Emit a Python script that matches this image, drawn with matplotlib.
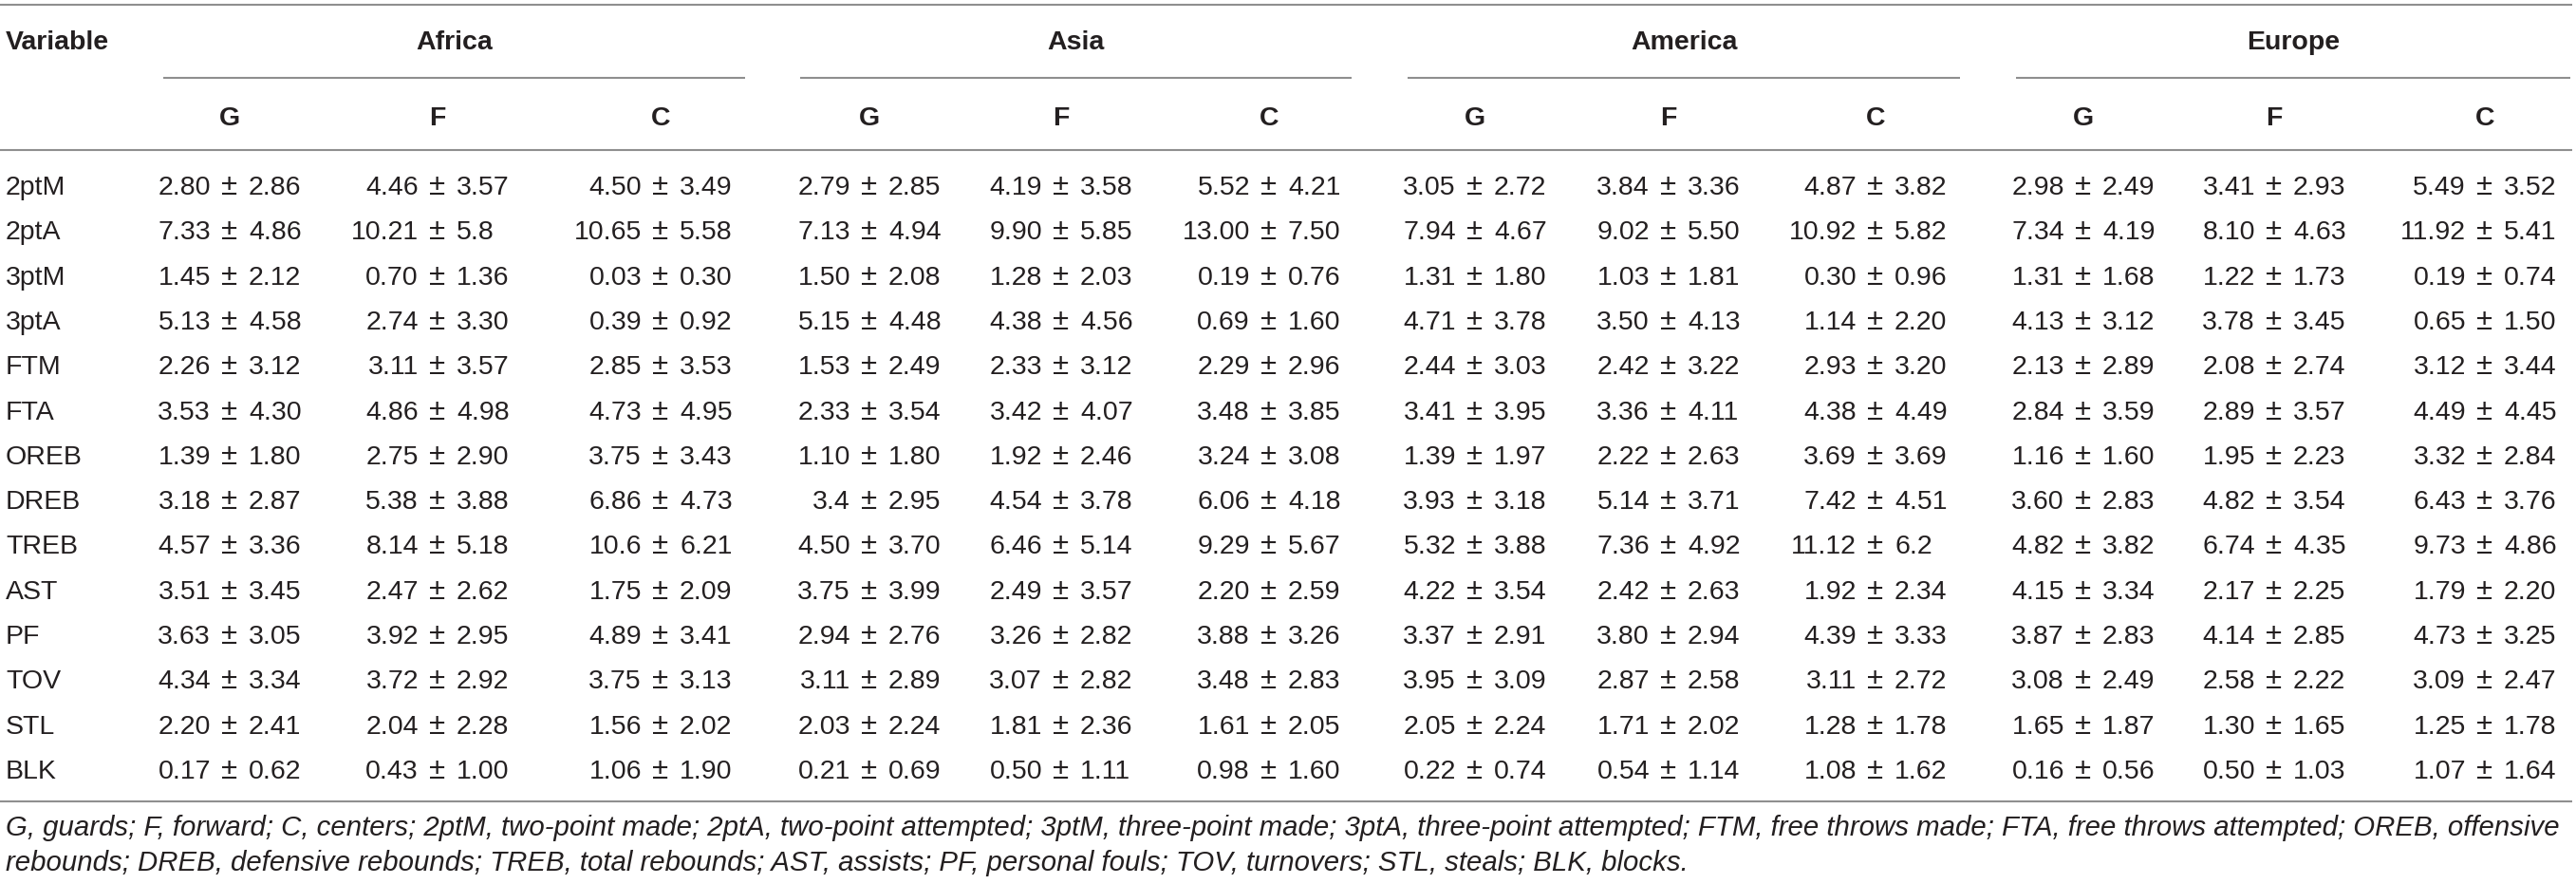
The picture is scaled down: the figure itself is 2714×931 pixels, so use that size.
import matplotlib
matplotlib.use("Agg")
import matplotlib.pyplot as plt

# 数据
variables = ["2ptM", "2ptA", "3ptM", "3ptA", "FTM", "FTA", "OREB", "DREB",
             "TREB", "AST", "PF", "TOV", "STL", "BLK"]
regions = ["Africa", "Asia", "America", "Europe"]
positions = ["G", "F", "C"]

africa_G = ["2.80 ± 2.86", "7.33 ± 4.86", "1.45 ± 2.12", "5.13 ± 4.58", "2.26 ± 3.12", "3.53 ± 4.30", "1.39 ± 1.80",
            "3.18 ± 2.87", "4.57 ± 3.36", "3.51 ± 3.45", "3.63 ± 3.05", "4.34 ± 3.34", "2.20 ± 2.41", "0.17 ± 0.62"]
africa_F = ["4.46 ± 3.57", "10.21 ± 5.8", "0.70 ± 1.36", "2.74 ± 3.30", "3.11 ± 3.57", "4.86 ± 4.98", "2.75 ± 2.90",
            "5.38 ± 3.88", "8.14 ± 5.18", "2.47 ± 2.62", "3.92 ± 2.95", "3.72 ± 2.92", "2.04 ± 2.28", "0.43 ± 1.00"]
africa_C = ["4.50 ± 3.49", "10.65 ± 5.58", "0.03 ± 0.30", "0.39 ± 0.92", "2.85 ± 3.53", "4.73 ± 4.95", "3.75 ± 3.43",
            "6.86 ± 4.73", "10.6 ± 6.21", "1.75 ± 2.09", "4.89 ± 3.41", "3.75 ± 3.13", "1.56 ± 2.02", "1.06 ± 1.90"]
asia_G = ["2.79 ± 2.85", "7.13 ± 4.94", "1.50 ± 2.08", "5.15 ± 4.48", "1.53 ± 2.49", "2.33 ± 3.54", "1.10 ± 1.80",
          "3.4 ± 2.95", "4.50 ± 3.70", "3.75 ± 3.99", "2.94 ± 2.76", "3.11 ± 2.89", "2.03 ± 2.24", "0.21 ± 0.69"]
asia_F = ["4.19 ± 3.58", "9.90 ± 5.85", "1.28 ± 2.03", "4.38 ± 4.56", "2.33 ± 3.12", "3.42 ± 4.07", "1.92 ± 2.46",
          "4.54 ± 3.78", "6.46 ± 5.14", "2.49 ± 3.57", "3.26 ± 2.82", "3.07 ± 2.82", "1.81 ± 2.36", "0.50 ± 1.11"]
asia_C = ["5.52 ± 4.21", "13.00 ± 7.50", "0.19 ± 0.76", "0.69 ± 1.60", "2.29 ± 2.96", "3.48 ± 3.85", "3.24 ± 3.08",
          "6.06 ± 4.18", "9.29 ± 5.67", "2.20 ± 2.59", "3.88 ± 3.26", "3.48 ± 2.83", "1.61 ± 2.05", "0.98 ± 1.60"]
america_G = ["3.05 ± 2.72", "7.94 ± 4.67", "1.31 ± 1.80", "4.71 ± 3.78", "2.44 ± 3.03", "3.41 ± 3.95", "1.39 ± 1.97",
             "3.93 ± 3.18", "5.32 ± 3.88", "4.22 ± 3.54", "3.37 ± 2.91", "3.95 ± 3.09", "2.05 ± 2.24", "0.22 ± 0.74"]
america_F = ["3.84 ± 3.36", "9.02 ± 5.50", "1.03 ± 1.81", "3.50 ± 4.13", "2.42 ± 3.22", "3.36 ± 4.11", "2.22 ± 2.63",
             "5.14 ± 3.71", "7.36 ± 4.92", "2.42 ± 2.63", "3.80 ± 2.94", "2.87 ± 2.58", "1.71 ± 2.02", "0.54 ± 1.14"]
america_C = ["4.87 ± 3.82", "10.92 ± 5.82", "0.30 ± 0.96", "1.14 ± 2.20", "2.93 ± 3.20", "4.38 ± 4.49", "3.69 ± 3.69",
             "7.42 ± 4.51", "11.12 ± 6.2", "1.92 ± 2.34", "4.39 ± 3.33", "3.11 ± 2.72", "1.28 ± 1.78", "1.08 ± 1.62"]
europe_G = ["2.98 ± 2.49", "7.34 ± 4.19", "1.31 ± 1.68", "4.13 ± 3.12", "2.13 ± 2.89", "2.84 ± 3.59", "1.16 ± 1.60",
            "3.60 ± 2.83", "4.82 ± 3.82", "4.15 ± 3.34", "3.87 ± 2.83", "3.08 ± 2.49", "1.65 ± 1.87", "0.16 ± 0.56"]
europe_F = ["3.41 ± 2.93", "8.10 ± 4.63", "1.22 ± 1.73", "3.78 ± 3.45", "2.08 ± 2.74", "2.89 ± 3.57", "1.95 ± 2.23",
            "4.82 ± 3.54", "6.74 ± 4.35", "2.17 ± 2.25", "4.14 ± 2.85", "2.58 ± 2.22", "1.30 ± 1.65", "0.50 ± 1.03"]
europe_C = ["5.49 ± 3.52", "11.92 ± 5.41", "0.19 ± 0.74", "0.65 ± 1.50", "3.12 ± 3.44", "4.49 ± 4.45", "3.32 ± 2.84",
            "6.43 ± 3.76", "9.73 ± 4.86", "1.79 ± 2.20", "4.73 ± 3.25", "3.09 ± 2.47", "1.25 ± 1.78", "1.07 ± 1.64"]

footnote_1 = ("G, guards; F, forward; C, centers; 2ptM, two-point made; 2ptA, two-point attempted; "
              "3ptM, three-point made; 3ptA, three-point attempted; FTM, free throws made; "
              "FTA, free throws attempted; OREB, offensive")
footnote_2 = ("rebounds; DREB, defensive rebounds; TREB, total rebounds; AST, assists; PF, personal fouls; "
              "TOV, turnovers; STL, steals; BLK, blocks.")

columns = [africa_G, africa_F, africa_C, asia_G, asia_F, asia_C,
           america_G, america_F, america_C, europe_G, europe_F, europe_C]

# 版面（像素坐标）
W, H = 2714, 931
col_x = [242, 461, 696, 916, 1118, 1337, 1554, 1758, 1976, 2195, 2396, 2618]
group_span = [(172, 785), (843, 1424), (1483, 2065), (2124, 2708)]
row_y0, row_dy = 194.5, 47.3
text_color = "#231f20"
line_color = "#8f8f8f"
fs = 20.5
half_cap = 10.5   # 文字中心到基线的距离
plt.rcParams['font.family'] = ['Liberation Sans', 'DejaVu Sans']

fig = plt.figure(figsize=(W / 100, H / 100), dpi=100)
ax = fig.add_axes([0, 0, 1, 1])
ax.set_xlim(0, W)
ax.set_ylim(H, 0)
ax.axis("off")

# 横线
for y in (5, 158, 844):
    ax.plot([0, 2710], [y, y], color=line_color, lw=1.5, solid_capstyle="butt")
for x0, x1 in group_span:
    ax.plot([x0, x1], [82, 82], color=line_color, lw=1.5, solid_capstyle="butt")

# 表头
ax.text(6, 42 + half_cap, "Variable", ha="left", va="baseline", fontsize=fs,
        fontweight="bold", color=text_color)
for (x0, x1), name in zip(group_span, regions):
    ax.text((x0 + x1) / 2, 42 + half_cap, name, ha="center", va="baseline", fontsize=fs,
            fontweight="bold", color=text_color)
for i, x in enumerate(col_x):
    ax.text(x, 122 + half_cap, positions[i % 3], ha="center", va="baseline", fontsize=fs,
            fontweight="bold", color=text_color)

# 数据行，以 ± 对齐
pm_off = 20
for r, var in enumerate(variables):
    y = row_y0 + r * row_dy + half_cap
    ax.text(6, y, var, ha="left", va="baseline", fontsize=fs, color=text_color)
    for x, col in zip(col_x, columns):
        mean, sd = col[r].split(" ± ")
        ax.text(x, y, "±", ha="center", va="baseline", fontsize=fs + 2, color=text_color)
        ax.text(x - pm_off, y, mean, ha="right", va="baseline", fontsize=fs, color=text_color)
        ax.text(x + pm_off, y, sd, ha="left", va="baseline", fontsize=fs, color=text_color)

# 脚注
ax.text(6, 870 + 10, footnote_1, ha="left", va="baseline", fontsize=21.2, style="italic", color=text_color)
ax.text(6, 907 + 10, footnote_2, ha="left", va="baseline", fontsize=21.2, style="italic", color=text_color)

fig.savefig("out.png", dpi=100)
